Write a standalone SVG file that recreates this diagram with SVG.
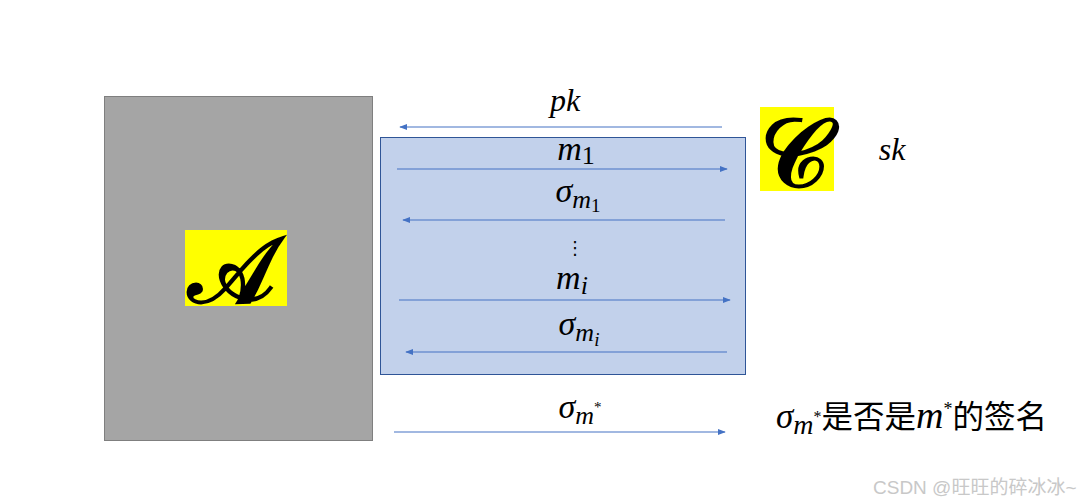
<svg xmlns="http://www.w3.org/2000/svg" width="1092" height="504" viewBox="0 0 1092 504">
<style>
.m{font-family:"Liberation Serif","DejaVu Serif",serif;font-style:italic;fill:#000}
.up{font-family:"Liberation Serif","DejaVu Serif",serif;font-style:normal}
.sc{font-family:"DejaVu Serif",serif;font-style:normal;font-weight:bold;fill:#000}
.cjk{font-family:"Noto Sans CJK SC",sans-serif;font-style:normal;fill:#000}
.ln{stroke:#4472c4;stroke-width:1.2;fill:none}
</style>
<defs>
<marker id="ah" viewBox="0 0 10 10" refX="9" refY="5" markerWidth="8" markerHeight="8" markerUnits="userSpaceOnUse" orient="auto">
<path d="M0,1 L10,5 L0,9 z" fill="#4472c4"/>
</marker>
</defs>
<rect width="1092" height="504" fill="#fff"/>
<g id="adversary">
<rect x="104.5" y="96.5" width="268" height="344" fill="#a5a5a5" stroke="#7f7f7f" stroke-width="1"/>
<rect x="185" y="230" width="102" height="76" fill="#ffff00"/>
<text x="231" y="302" text-anchor="middle" class="sc" font-size="92">𝒜</text>
</g>
<g id="oracle-box">
<rect x="380.5" y="137.5" width="365" height="237" fill="#c2d1eb" stroke="#2f5597" stroke-width="1"/>
</g>
<g id="challenger">
<rect x="760" y="107" width="74" height="84" fill="#ffff00"/>
<text x="795" y="186" text-anchor="middle" class="sc" font-size="96">𝒞</text>
<text x="892" y="160" text-anchor="middle" class="m" font-size="32">sk</text>
</g>
<g id="connectors">
<line class="ln" x1="722" y1="127" x2="400" y2="127" marker-end="url(#ah)"/>
<line class="ln" x1="397" y1="169" x2="727" y2="169" marker-end="url(#ah)"/>
<line class="ln" x1="725" y1="220" x2="403" y2="220" marker-end="url(#ah)"/>
<line class="ln" x1="399" y1="300" x2="730" y2="300" marker-end="url(#ah)"/>
<line class="ln" x1="727" y1="352" x2="406" y2="352" marker-end="url(#ah)"/>
<line class="ln" x1="394" y1="432" x2="725" y2="432" marker-end="url(#ah)"/>
</g>
<g id="labels">
<text x="565" y="111" text-anchor="middle" class="m" font-size="32">pk</text>
<text x="576" y="160" text-anchor="middle" class="m" font-size="34">m<tspan class="up" font-size="26" dy="4">1</tspan></text>
<text x="578" y="202" text-anchor="middle" class="m" font-size="34">σ<tspan font-size="26" dy="6">m</tspan><tspan class="up" font-size="19" dy="4">1</tspan></text>
<text x="575" y="254" text-anchor="middle" font-family="DejaVu Sans" font-size="18" fill="#000">⋮</text>
<text x="572" y="289" text-anchor="middle" class="m" font-size="34">m<tspan font-size="26" dy="5">i</tspan></text>
<text x="579" y="335" text-anchor="middle" class="m" font-size="34">σ<tspan font-size="26" dy="6">m</tspan><tspan font-size="19" dy="5">i</tspan></text>
<text x="580" y="418" text-anchor="middle" class="m" font-size="34">σ<tspan font-size="26" dy="6">m</tspan><tspan class="up" font-size="15" dy="-12">*</tspan></text>
<text x="776" y="428" font-size="35"><tspan class="m">σ</tspan><tspan class="m" font-size="28" dy="6">m</tspan><tspan class="up" font-size="16" dy="-12">*</tspan><tspan class="cjk" font-size="31.5" dy="6">是否是</tspan><tspan class="m" font-size="38">m</tspan><tspan class="up" font-size="18" dy="-13">*</tspan><tspan class="cjk" font-size="31.5" dy="13">的签名</tspan></text>
<text x="873" y="494" font-family="Liberation Sans,Noto Sans CJK SC,sans-serif" font-size="19" fill="#c8c8c8">CSDN @旺旺的碎冰冰~</text>
</g>
</svg>
